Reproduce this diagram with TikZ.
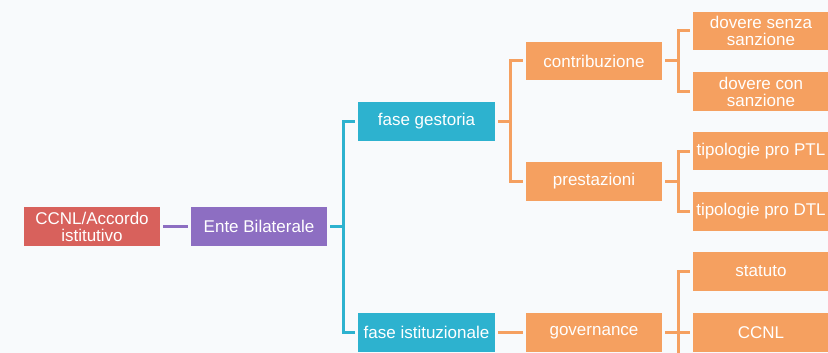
\documentclass[tikz,border=0pt]{standalone}
\usepackage{fontspec}
\setmainfont{Liberation Sans}
\definecolor{bg}{HTML}{F8FAFC}
\definecolor{cred}{HTML}{D8615C}
\definecolor{cpurple}{HTML}{8D6EC2}
\definecolor{cblue}{HTML}{2DB2CF}
\definecolor{corange}{HTML}{F5A060}
\begin{document}
\begin{tikzpicture}[x=1pt,y=-1pt,
  box/.style={fill=#1, text=white, minimum width=136pt, minimum height=38.5pt, inner sep=0pt,
    align=center, font=\fontsize{17}{17}\selectfont},
  link/.style={draw=#1, line width=3pt},
  gap/.style={shorten <=3pt, shorten >=3pt}]
\useasboundingbox (0,0) rectangle (828,353);
\clip (0,0) rectangle (828,353);
\fill[bg] (0,0) rectangle (828,353);

\node[box=cred] (ccnl) at (92,226.5) {CCNL/Accordo\\istitutivo};
\node[box=cpurple] (ente) at (259,226.5) {Ente Bilaterale};
\node[box=cblue, minimum width=137pt] (fg) at (426.5,121.5) {fase gestoria};
\node[box=cblue, minimum width=137pt] (fi) at (426.5,332.5) {fase istituzionale};
\node[box=corange] (contr) at (594,61) {contribuzione};
\node[box=corange] (prest) at (594,181.5) {prestazioni};
\node[box=corange] (gov) at (594,332.5) {governance};
\node[box=corange] (d1) at (761,31) {dovere senza\\sanzione};
\node[box=corange] (d2) at (761,91.5) {dovere con\\sanzione};
\node[box=corange] (p1) at (761,151) {tipologie pro PTL};
\node[box=corange] (p2) at (761,211.5) {tipologie pro DTL};
\node[box=corange] (st) at (761,271.5) {statuto};
\node[box=corange] (cc) at (761,332.5) {CCNL};

\coordinate (b1) at (343,226.5);
\coordinate (b2) at (510,121.5);
\coordinate (b3) at (678,61);
\coordinate (b4) at (678,181.5);
\coordinate (b5) at (678,360);

\draw[link=cpurple, gap] (ccnl) -- (ente);
\draw[link=cblue, shorten <=3pt] (ente.east) -- (b1);
\draw[link=cblue, shorten <=3pt, shorten >=3pt] (fg.west) -| (b1) |- (fi.west);
\draw[link=corange, shorten <=3pt] (fg.east) -- (b2);
\draw[link=corange, shorten <=3pt, shorten >=3pt] (contr.west) -| (b2) |- (prest.west);
\draw[link=corange, shorten <=3pt] (contr.east) -- (b3);
\draw[link=corange, shorten <=3pt, shorten >=3pt] (d1.west) -| (b3) |- (d2.west);
\draw[link=corange, shorten <=3pt] (prest.east) -- (b4);
\draw[link=corange, shorten <=3pt, shorten >=3pt] (p1.west) -| (b4) |- (p2.west);
\draw[link=corange, gap] (fi) -- (gov);
\draw[link=corange, gap] (gov) -- (cc);
\draw[link=corange, shorten <=3pt] (st.west) -| (b5);
\end{tikzpicture}
\end{document}
